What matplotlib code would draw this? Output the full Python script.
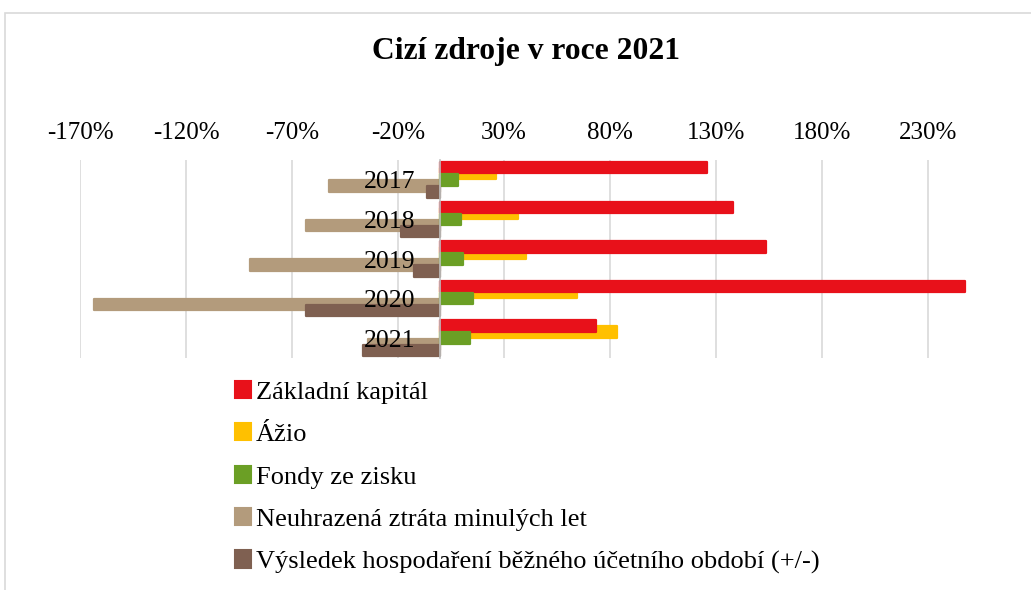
import numpy as np
import matplotlib
matplotlib.use("Agg")
import matplotlib.pyplot as plt
from matplotlib.patches import Rectangle, Patch
from matplotlib.ticker import FuncFormatter

plt.rcParams['font.family'] = ['Liberation Serif', 'DejaVu Serif']

# data (in %)
years = ['2017', '2018', '2019', '2020', '2021']
series_names = ['Základní kapitál', 'Ážio', 'Fondy ze zisku',
                'Neuhrazená ztráta minulých let',
                'Výsledek hospodaření běžného účetního období (+/-)']
zakladni = [126, 138, 153.5, 247.5, 73.5]
azio = [26, 36.5, 40.5, 64.5, 83.5]
fondy = [8.5, 9.5, 10.5, 15.5, 14]
ztrata = [-52.5, -63.5, -90, -163.5, -34]
vysledek = [-6.5, -18.5, -12.5, -63.5, -36.5]
colors = ['#e8111a', '#ffc000', '#6b9f25', '#b39b7c', '#7f6051']
xticks = [-170, -120, -70, -20, 30, 80, 130, 180, 230]

W, H = 1031, 590
fig = plt.figure(figsize=(W / 100, H / 100), dpi=100)

# chart border (only left and top visible)
fig.patches.append(Rectangle((5 / W, -0.2), 1.2, 1 - 12.5 / H + 0.2,
                             transform=fig.transFigure, fill=False,
                             edgecolor='#d9d9d9', lw=1.2))

x0, x1 = 80, 974.6
ytop, ybot = 160, 358
ax = fig.add_axes([x0 / W, 1 - ybot / H, (x1 - x0) / W, (ybot - ytop) / H])

y = np.arange(len(years))
step = 0.153
h = 0.29
all_series = [zakladni, azio, fondy, ztrata, vysledek]
zorders = [1.2, 1.1, 1.2, 1.1, 1.2]
for k, (vals, c, z) in enumerate(zip(all_series, colors, zorders)):
    ax.barh(y + (k - 2) * step, vals, height=h, color=c, edgecolor=c,
            linewidth=1.6, joinstyle='round', zorder=z, label=series_names[k])

for t in xticks:
    ax.axvline(t, color='#d9d9d9', lw=1.2, zorder=0)

ax.set_xlim(-170, 252)
ax.set_ylim(len(years) - 0.5, -0.5)
ax.set_xticks(xticks)
ax.xaxis.set_major_formatter(FuncFormatter(lambda v, p: f'{v:.0f}%'))
ax.xaxis.tick_top()
ax.tick_params(axis='x', length=0, pad=11.5, labelsize=18)
ax.set_yticks(y)
ax.set_yticklabels(years)
ax.tick_params(axis='y', length=0, pad=18, labelsize=18.5)

ax.spines['left'].set_position(('data', 0))
ax.spines['left'].set_color('#bfbfbf')
ax.spines['left'].set_linewidth(1.2)
for s in ['top', 'right', 'bottom']:
    ax.spines[s].set_visible(False)

fig.text(526.5 / W, 1 - 52 / H, 'Cizí zdroje v roce 2021', ha='center',
         va='center', fontsize=22.7, fontweight='bold')

handles = [Patch(facecolor=c, edgecolor=c, joinstyle='round', lw=1.5)
           for c in colors]
fig.legend(handles, series_names, loc='upper left',
           bbox_to_anchor=(235 / W, 1 - 381 / H), frameon=False,
           fontsize=19, handlelength=0.62, handleheight=0.62,
           handletextpad=0.17, labelspacing=0.74, borderpad=0,
           borderaxespad=0)

fig.savefig('out.png', dpi=100)
